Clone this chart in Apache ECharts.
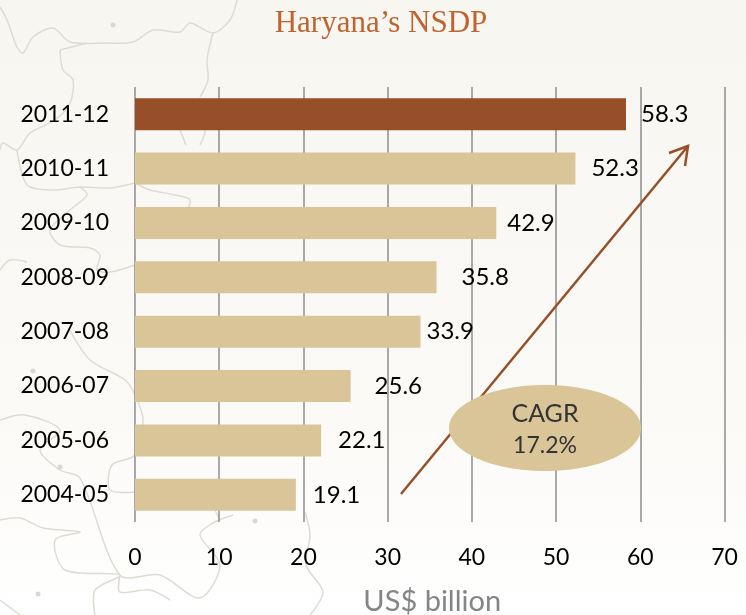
<!DOCTYPE html>
<html>
<head>
<meta charset="utf-8">
<style>html,body{margin:0;padding:0;background:#fff}#chart{width:746px;height:615px}</style>
<script src="https://cdn.jsdelivr.net/npm/echarts@6/dist/echarts.min.js"></script>
</head>
<body>
<div id="chart"></div>
<script>
// data
const years = ['2011-12', '2010-11', '2009-10', '2008-09', '2007-08', '2006-07', '2005-06', '2004-05'];
const nsdp = [58.3, 52.3, 42.9, 35.8, 33.9, 25.6, 22.1, 19.1];
const xTicks = [0, 10, 20, 30, 40, 50, 60, 70];

// the labels in the original sit at uneven gaps from the bars
const labelGaps = [15, 16, 11, 25, 6, 24, 17, 17];

const textFont = 'Lato';
const brown = '#964F28';
const tan = '#D9C598';

// faint state borders behind the chart
const mapLines = [
  [[0,7],[7,20],[17,47],[23,53],[33,37],[53,28],[70,42],[107,43],[133,42],[153,30],[180,32],[190,23],[213,33],[230,20],[237,0]],
  [[213,33],[207,60],[208,80],[200,97]],
  [[60,50],[87,43]],
  [[60,50],[63,70],[73,80],[70,103],[55,120],[30,133],[17,150],[3,143],[0,150]],
  [[17,150],[27,185],[53,190],[80,187],[110,188],[135,183]],
  [[80,187],[87,195],[70,210],[50,230],[60,245],[90,248],[100,255],[97,270],[110,272],[135,265]],
  [[135,183],[150,190],[175,195],[190,200],[185,215]],
  [[27,262],[10,260],[0,270]],
  [[70,330],[90,360],[125,380],[135,395],[143,420],[135,455],[112,465],[110,490],[135,492]],
  [[0,420],[25,415],[60,430],[40,450],[60,470],[80,478],[120,575],[160,575],[200,598],[220,565],[200,535],[213,523],[233,515]],
  [[0,520],[20,518],[43,528],[80,532],[55,540],[65,570],[120,575],[95,590],[95,615]],
  [[205,490],[220,520]],
  [[305,512],[310,535],[306,565],[323,592],[310,615]],
  [[120,575],[120,592],[150,590],[170,600]],
  [[0,600],[20,615]],
  [[195,105],[205,130],[200,145]],
  [[180,130],[186,145]]
];
const mapDots = [[113,25],[33,371],[60,467],[38,594],[255,521]];

const chart = echarts.init(document.getElementById('chart'));

chart.setOption({
  backgroundColor: {
    type: 'linear', x: 0, y: 0, x2: 0, y2: 1,
    colorStops: [{ offset: 0, color: '#F8F6F1' }, { offset: 0.7, color: '#FBFAF7' }, { offset: 1, color: '#FFFFFF' }]
  },
  animation: false,
  title: {
    text: 'Haryana\u2019s NSDP',
    left: 376, top: 3, textAlign: 'center',
    textStyle: { fontFamily: 'Liberation Serif', fontSize: 31, fontWeight: 'normal', color: '#C1632F' }
  },
  grid: { left: 135, right: 21.5, top: 87, bottom: 93, outerBoundsMode: 'none' },
  xAxis: {
    type: 'value', min: 0, max: 70, interval: 10,
    name: 'US$ billion', nameLocation: 'middle', nameGap: 65,
    nameTextStyle: { fontFamily: textFont, fontSize: 29, color: '#858585', padding: [0, 0, 0, 5] },
    axisLine: { show: false },
    axisTick: { show: false },
    axisLabel: {
      margin: 24, fontFamily: textFont, fontSize: 23, color: '#000',
      formatter: v => (xTicks.includes(v) ? String(v) : '')
    },
    splitLine: { show: true, lineStyle: { color: '#8E8E8E', width: 1.5 } }
  },
  yAxis: {
    type: 'category', data: years, inverse: true,
    axisLine: { show: false },
    axisTick: { show: false },
    axisLabel: { margin: 26, fontFamily: textFont, fontSize: 23, color: '#000' }
  },
  series: [{
    type: 'bar',
    barWidth: 32,
    data: nsdp.map((v, i) => ({
      value: v,
      itemStyle: { color: i === 0 ? brown : tan },
      label: { distance: labelGaps[i] }
    })),
    label: { show: true, position: 'right', fontFamily: textFont, fontSize: 24, color: '#000', formatter: p => p.value.toFixed(1) }
  }],
  graphic: [
    ...mapLines.map(pts => ({
      type: 'polyline', z: -1, silent: true,
      shape: { points: pts, smooth: 0.3 },
      style: { stroke: '#DEDBD4', lineWidth: 1.5, fill: null }
    })),
    ...mapDots.map(d => ({
      type: 'circle', z: -1, silent: true,
      shape: { cx: d[0], cy: d[1], r: 2.5 },
      style: { fill: '#DAD8D2' }
    })),
    // CAGR arrow and bubble
    { type: 'line', z: 10, shape: { x1: 401, y1: 494, x2: 688, y2: 146 }, style: { stroke: brown, lineWidth: 2.5 } },
    { type: 'polyline', z: 10, shape: { points: [[669, 153], [688, 146], [685, 166]] }, style: { stroke: brown, lineWidth: 2.5, fill: null } },
    { type: 'ellipse', z: 11, shape: { cx: 545, cy: 428, rx: 96, ry: 43 }, style: { fill: tan } },
    {
      type: 'text', z: 12, x: 545, y: 430,
      style: {
        text: '{a|CAGR}\n{b|17.2%}', align: 'center', verticalAlign: 'middle',
        rich: {
          a: { fontFamily: textFont, fontSize: 25, lineHeight: 32, fill: '#333', color: '#333' },
          b: { fontFamily: textFont, fontSize: 23, lineHeight: 32, fill: '#333', color: '#333' }
        }
      }
    }
  ]
});
</script>
</body>
</html>
